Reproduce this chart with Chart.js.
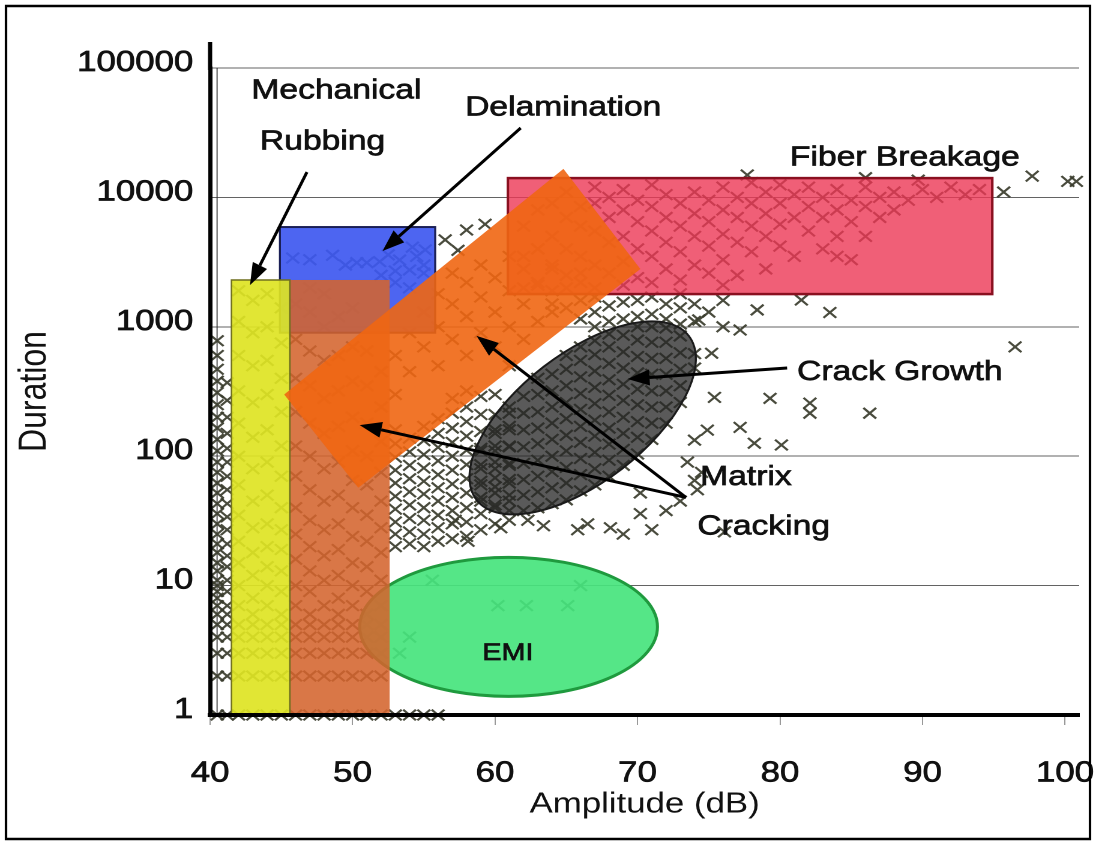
<!DOCTYPE html>
<html><head><meta charset="utf-8">
<script src="https://cdn.jsdelivr.net/npm/chart.js@4.4.1/dist/chart.umd.min.js"></script>
<style>html,body{margin:0;padding:0;background:#fff;overflow:hidden}canvas{display:block}</style>
</head><body>
<canvas id="c" width="913" height="845" style="width:1096px;height:845px"></canvas>
<script>
// ---- axis ticks ----
const ampTicks = [40, 50, 60, 70, 80, 90, 100];
const durTicks = [1, 10, 100, 1000, 10000, 100000];

// ---- AE hits: [amplitude dB, [durations...]] ----
const lowAmpHits = [
  [40.5, [1,2,3,4,5,6,7,8,9,10,11,13,15,18,21,25,30,36,43,52,62,75,90,110,135,165,200,250,310,380,470,600,780]],
  [41.2, [1,2,3,4,5,6,7,9,11,14,17,21,27,34,43,55,70,90,115,150,200,270,370]]
];
const rubbingHits = [
  [42, [1,2,3,4,5,7,10,15,22,35,60,100,180,320,600,1100,1900]],
  [43, [1,2,3,4,5,6,8,12,18,28,45,80,140,260,500,900,1600]],
  [44, [1,2,3,4,5,7,10,14,20,30,50,90,160,300,550,1000,1800]],
  [45, [1,2,3,4,5,6,9,13,19,27,40,70,120,220,400,750,1400]]
];
const matrixColumnHits = [
  [46, [1,2,3,4,5,7,10,16,25,40,70,120,220,400,800,1500]],
  [47, [1,2,3,4,5,6,9,13,20,32,55,100,180,350,650,1300,2000]],
  [48, [1,2,3,4,5,7,11,17,27,45,80,150,280,550,1000,1800]],
  [49, [1,2,3,4,5,6,8,12,19,30,50,90,170,320,600,1200]],
  [50, [1,2,3,4,5,7,10,15,24,40,65,110,200,380,700,1400]],
  [51, [1,2,3,4,5,6,9,14,22,35,60,100,180,350,650]],
  [52, [1,2,3,4,5,7,11,18,28,45,75,130,240,450]]
];
const midHits = [
  [53, [1,20,25,31,39,49,62,78,98,125,160]],
  [54, [1,21,26,33,42,53,67,85,108,138]],
  [55, [1,20,25,32,40,51,64,81,103,132,170]],
  [56, [1,22,28,35,45,57,72,92,117,150,195]],
  [57, [23,30,38,48,61,78,100,128,165,215,280]],
  [58, [24,31,40,52,67,86,111,143,185,240,320]],
  [59, [27,36,48,64,86,115,155,210,290]],
  [60, [30,42,58,80,110,150,210,300]],
  [61, [32,45,62,85,120,170,240]]
];
const crackHits = [
  [59, [45,60,80,110]],
  [60, [40,52,68,90,120,160]],
  [61, [38,50,66,88,118,160,215]],
  [62, [38,50,66,88,118,160,215,290]],
  [63, [40,53,70,93,125,165,220,300,400]],
  [64, [43,57,76,100,135,180,240,320,430]],
  [65, [46,62,82,110,145,195,260,350,470,600]],
  [66, [54,72,96,128,170,230,305,410,550,700]],
  [67, [60,80,107,143,190,255,340,455,610,780]],
  [68, [70,93,124,165,220,295,390,520,700,880]],
  [69, [85,113,150,200,270,360,480,640,860]],
  [70, [104,140,185,250,330,440,590,790,1000]],
  [71, [135,180,240,320,430,570,760,1000]],
  [72, [180,240,320,430,570,760,980]],
  [73, [260,350,470,630,850]],
  [74, [480,620]]
];
const fiberHits = [
  [62, [2000,3500,6000]], [63, [2200,4000,8000]], [64, [1900,3000,5000,9000]],
  [65, [2500,4000,7000,11000]], [66, [2200,3500,6000,8500]], [67, [2000,3000,5500,9000,12000]],
  [68, [2600,4500,7000,10000]], [69, [2100,3200,5000,8000,11500]], [70, [2400,4000,6500,9500]],
  [71, [2200,3500,5500,8500,12500]], [72, [2800,4500,7000,10500]], [73, [2300,3800,6000,9000]],
  [74, [3000,5000,7500,11000]], [75, [2600,4200,6500,9500]], [76, [2100,3300,5200,8000,12000]],
  [77, [2500,4500,7000,10000]], [78, [3800,6000,9000,13000]], [79, [2800,5000,7500,11000]],
  [80, [4200,6200,9000,12500]], [81, [3500,7000,10500]], [82, [5500,8500,12000]],
  [83, [4000,7000,10000]], [84, [3500,5000,8000,11500]], [85, [3300,6500,9500]],
  [86, [5000,8500,12000]], [87, [7000,10000]], [88, [8000,11000]], [89, [9500]],
  [90, [11500]], [91, [10000]], [92, [12000]], [93, [10500]], [94, [11500]]
];
// ---- isolated hits: [amplitude dB, duration] ----
const scatterHits = [
  [66,1150],[66,1600],[65,1400],[64,1300],[67,1000],[67,1300],[67,1700],[68,1100],[68,1450],
  [69,1150],[69,1550],[70,1200],[70,1600],[71,1250],[71,1700],[72,1150],[72,1500],[73,1050],
  [73,1400],[73,1800],[74,1100],[74,1500],[75,1300],[76,1000],[76,1600],
  [78.4,1350],[83.5,1290],[81.5,1610],[77.2,945],[74.3,1130],[75.2,625],[96.5,700],[79.3,280],
  [82.1,257],[82.1,215],[86.3,215],[75.4,285],[74.9,159],[77.2,167],[78.2,126],[80.1,122],[74,133],
  [77.7,14900],[86,14200],[89.7,13600],[95.7,11000],[97.7,14600],[100.2,13300],[100.8,13300],
  [56.5,4700],[58,5600],[59.3,6200],[57.4,3900]
];
const matrixLowHits = [
  [58.1,22],[60.4,28],[57.2,32],[62.3,32],[63.4,29],[65.8,27],[66.5,30],[68.1,28],[69,25],
  [70.2,36],[71,27],[72,38],[73,45],[70.2,52],[74.2,55],[74,65],[76.1,26],[73.5,90],[74.5,75]
];
const delamHits = [
  [45.8,3400],[48.6,3570],[50.3,3130],[51,3130],[51.9,3190],[53.3,3280],[54.2,4130],[54,2750],
  [55.1,3930],[52,2500],[53,2200],[54,2000],[55,2600],[53,2700],[55,3000],[54.5,3500],[52.5,3600],
  [47,3300],[49.5,3000]
];
const bandHits = [
  [53,300],[53,600],[54,450],[54,900],[55,700],[55,1300],[56,500],[56,1000],[56,1800],[57,800],
  [57,1500],[57,2600],[58,600],[58,1200],[58,2200],[59,900],[59,1700],[59,3000],[60,700],[60,1300],
  [60,2400],[61,500],[61,1000],[61,1900],[61,3500],[62,800],[62,1500],[62,2800],[63,1100],[63,2100],
  [63,4000],[64,1500],[64,2800],[65,2000],[66,2600]
];
const emiHits = [[60.2,7],[62.2,7],[65.1,7],[66,10],[54,4],[53.3,3],[55.6,11]];

// ---- damage-mode zones (data coordinates: amplitude, duration) ----
const rubbingZone = [41.5, 45.6, 1, 2300];   // ampMin, ampMax, durMin, durMax
const matrixZone  = [45.6, 52.6, 1, 2300];
const delamZone   = [44.9, 55.8, 900, 5900];
const fiberZone   = [60.9, 94.9, 1790, 14100];
const matrixBand  = [[64.8,16600],[70.2,2800],[50.4,57],[45.2,300]];
const crackZone   = [[58.7,46],[73.6,850],0.48];   // major-axis ends, minor/major
const emiZone     = [[50.5,4.8],[71.4,4.8],0.467];
const arrowLines = [
  [[46.8,15700],[42.8,2100]],
  [[61.8,34400],[52.1,3850]],
  [[80.5,480],[69.3,395]],
  [[73.4,48],[58.7,850]],
  [[73.4,48],[50.5,174]]
];
const zoneLabels = [
  ['Mechanical',42.9,66400], ['Rubbing',43.5,26800], ['Delamination',57.9,49100],
  ['Fiber Breakage',80.7,20150], ['Crack Growth',81.2,447], ['Matrix',74.4,69],
  ['Cracking',74.2,28.4], ['EMI',60.9,3.0]
];

const FONT = '"Liberation Sans", Arial, Helvetica, sans-serif';
const K = 1096 / 913; // horizontal stretch of the canvas

const expand = rows => rows.flatMap(([a, ds]) => ds.map(d => ({x: a, y: d})));
const pairs = rows => rows.map(([a, d]) => ({x: a, y: d}));
const allHits = [].concat(
  expand(lowAmpHits), expand(rubbingHits), expand(matrixColumnHits), expand(midHits),
  expand(crackHits), expand(fiberHits), pairs(scatterHits), pairs(matrixLowHits),
  pairs(delamHits), pairs(bandHits), pairs(emiHits));

function scr(c, a, d) { return [c.scales.x.getPixelForValue(a) * K, c.scales.y.getPixelForValue(d)]; }

const zonesPlugin = {
  id: 'zones',
  beforeDraw(c) {
    const g = c.ctx; g.save(); g.fillStyle = '#fff'; g.fillRect(0, 0, c.width, c.height); g.restore();
  },
  beforeDatasetsDraw(c) {
    const g = c.ctx, a = c.chartArea;
    g.save(); g.strokeStyle = 'rgba(40,40,40,0.8)'; g.lineWidth = 1;
    g.beginPath(); g.moveTo(a.left + 7 / K, a.top); g.lineTo(a.left + 7 / K, a.bottom); g.stroke();
    g.restore();
  },
  afterDatasetsDraw(c) {
    const g = c.ctx; g.save(); g.scale(1 / K, 1);
    const rect = (b, fill, stroke, lw) => {
      const [x0, y0] = scr(c, b[0], b[3]); const [x1, y1] = scr(c, b[1], b[2]);
      g.fillStyle = fill; g.fillRect(x0, y0, x1 - x0, y1 - y0);
      if (stroke) { g.strokeStyle = stroke; g.lineWidth = lw; g.strokeRect(x0, y0, x1 - x0, y1 - y0); }
    };
    const ell = (e, fill, stroke, lw) => {
      const [x0, y0] = scr(c, e[0][0], e[0][1]); const [x1, y1] = scr(c, e[1][0], e[1][1]);
      const ra = Math.hypot(x1 - x0, y1 - y0) / 2, ang = Math.atan2(y1 - y0, x1 - x0);
      g.beginPath(); g.ellipse((x0 + x1) / 2, (y0 + y1) / 2, ra, ra * e[2], ang, 0, Math.PI * 2);
      g.fillStyle = fill; g.fill(); g.strokeStyle = stroke; g.lineWidth = lw; g.stroke();
    };
    ell(emiZone, 'rgba(70,228,125,0.92)', '#1f9a3e', 3);
    rect(delamZone, 'rgba(62,88,240,0.92)', '#1a1f55', 2);
    rect(matrixZone, 'rgba(212,100,45,0.88)', null, 0);
    rect(rubbingZone, 'rgba(222,228,35,0.92)', '#707020', 1.5);
    rect(fiberZone, 'rgba(236,55,85,0.8)', '#8a1020', 2.5);
    g.beginPath();
    matrixBand.forEach((p, i) => { const [x, y] = scr(c, p[0], p[1]); i ? g.lineTo(x, y) : g.moveTo(x, y); });
    g.closePath(); g.fillStyle = 'rgba(240,102,18,0.9)'; g.fill();
    ell(crackZone, 'rgba(38,38,38,0.76)', '#1a1a1a', 2);
    g.restore();
  },
  afterDraw(c) {
    const g = c.ctx, a = c.chartArea;
    g.save(); g.scale(1 / K, 1);
    g.strokeStyle = '#000'; g.fillStyle = '#000'; g.lineWidth = 3;
    arrowLines.forEach(([p, q]) => {
      const [x0, y0] = scr(c, p[0], p[1]); const [x1, y1] = scr(c, q[0], q[1]);
      const ang = Math.atan2(y1 - y0, x1 - x0), L = 22, W = 8;
      const bx = x1 - L * Math.cos(ang), by = y1 - L * Math.sin(ang);
      g.beginPath(); g.moveTo(x0, y0); g.lineTo(bx, by); g.stroke();
      g.beginPath(); g.moveTo(x1, y1);
      g.lineTo(bx + W * Math.sin(ang), by - W * Math.cos(ang));
      g.lineTo(bx - W * Math.sin(ang), by + W * Math.cos(ang));
      g.closePath(); g.fill();
    });
    g.lineWidth = 2.5; g.strokeRect(6, 6, 1084, 833);
    g.lineWidth = 4.2; g.beginPath(); g.moveTo(a.left * K, 42); g.lineTo(a.left * K, a.top + 2); g.stroke();
    g.restore();
    g.save(); g.fillStyle = '#111'; g.strokeStyle = '#111'; g.lineWidth = 0.7; g.textBaseline = 'middle';
    zoneLabels.forEach(([t, am, du]) => {
      const centered = t === 'EMI';
      g.font = (centered ? 24 : 28) + 'px ' + FONT;
      g.textAlign = centered ? 'center' : 'left';
      const x = c.scales.x.getPixelForValue(am), y = c.scales.y.getPixelForValue(du);
      g.fillText(t, x, y); g.strokeText(t, x, y);
    });
    g.restore();
  }
};

new Chart(document.getElementById('c'), {
  type: 'scatter',
  data: { datasets: [{
    data: allHits, pointStyle: 'crossRot', pointRadius: 7.5, pointHoverRadius: 7.5,
    pointBorderColor: 'rgba(58,60,44,0.92)', pointBackgroundColor: 'rgba(0,0,0,0)',
    pointBorderWidth: 2, showLine: false, clip: false
  }]},
  options: {
    responsive: false, animation: false, devicePixelRatio: 2,
    layout: { padding: { left: 0, top: 68, right: 14, bottom: 0 } },
    plugins: { legend: { display: false }, tooltip: { enabled: false } },
    scales: {
      x: {
        type: 'linear', min: 40, max: 101,
        afterBuildTicks: s => { s.ticks = ampTicks.map(v => ({ value: v })); },
        afterFit: s => { s.height = 130; s.paddingLeft = 0; s.paddingRight = 0; },
        grid: { drawOnChartArea: false, drawTicks: true, tickLength: 10, color: '#999', lineWidth: 1 },
        border: { display: true, color: '#000', width: 4, z: 1 },
        ticks: { font: { size: 29, family: FONT }, color: '#111', textStrokeColor: '#111', textStrokeWidth: 0.7, padding: 31, maxRotation: 0, autoSkip: false, callback: v => String(v) },
        title: { display: true, text: 'Amplitude (dB)', font: { size: 29, family: FONT }, color: '#111', padding: { top: 0, bottom: 23 } }
      },
      y: {
        type: 'logarithmic', min: 1, max: 100000,
        afterBuildTicks: s => { s.ticks = durTicks.map(v => ({ value: v })); },
        afterFit: s => { s.width = 175; },
        grid: { drawTicks: false, color: 'rgba(60,60,60,0.8)', lineWidth: 1 },
        border: { display: true, color: '#000', width: 3.5, z: 1 },
        ticks: { font: { size: 29, family: FONT }, color: '#111', textStrokeColor: '#111', textStrokeWidth: 0.7, padding: 14, labelOffset: -5, autoSkip: false, callback: v => String(v) },
        title: { display: true, text: 'Duration', font: { size: 32, family: FONT }, color: '#111', padding: { top: 10, bottom: 0 } }
      }
    }
  },
  plugins: [zonesPlugin]
});
</script>
</body></html>
